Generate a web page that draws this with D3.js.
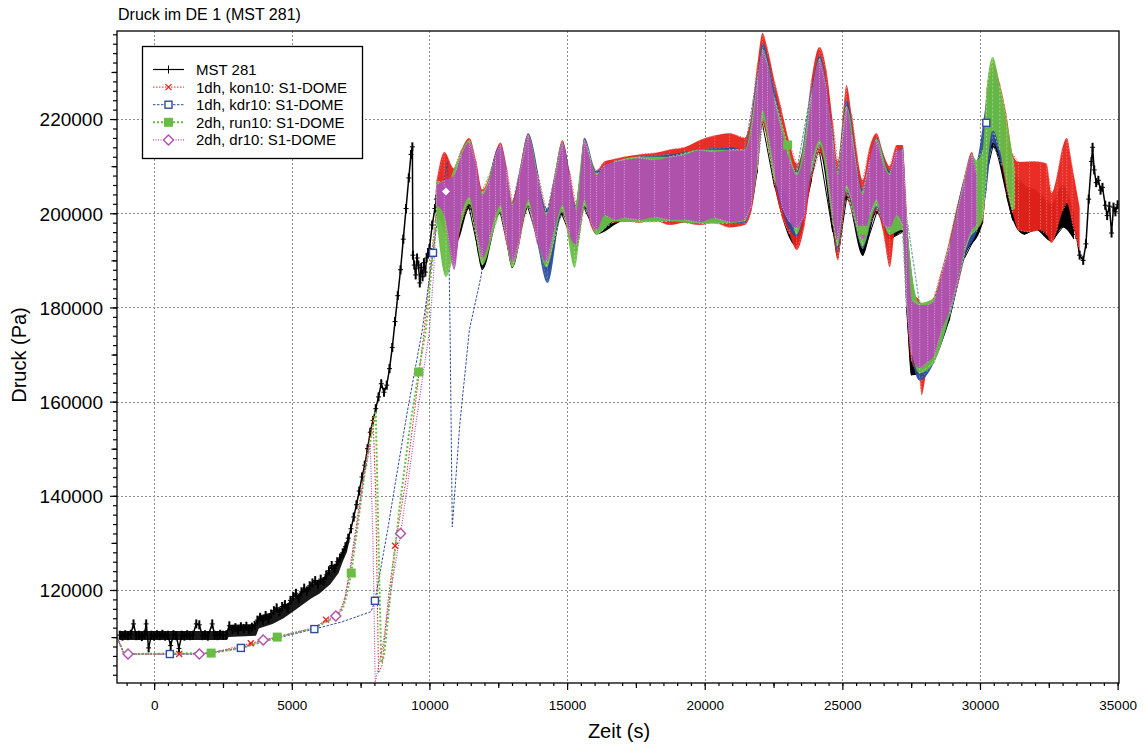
<!DOCTYPE html>
<html>
<head>
<meta charset="utf-8">
<script src="https://cdn.jsdelivr.net/npm/d3@7"></script>
<style>
  body { margin: 0; background: #fff; }
  svg text { font-family: "Liberation Sans", Arial, sans-serif; fill: #000; }
</style>
</head>
<body>
<svg id="chart" width="1146" height="747"></svg>
<script>
// ---- data -----------------------------------------------------------
const chartTitle = "Druck im DE 1 (MST 281)";
const xLabel = "Zeit (s)";
const yLabel = "Druck (Pa)";
const seriesNames = ["MST 281", "1dh, kon10: S1-DOME", "1dh, kdr10: S1-DOME", "2dh, run10: S1-DOME", "2dh, dr10: S1-DOME"];
const xTicks = [0, 5000, 10000, 15000, 20000, 25000, 30000, 35000];
const yTicks = [120000, 140000, 160000, 180000, 200000, 220000];

// MST 281 measurement [t, p] before the oscillating phase
const mstStart = [
  [-1250,110400],[-1150,110200],[-1050,110500],[-950,110300],[-850,110600],[-750,112800],[-650,110300],
  [-550,110400],[-450,110100],[-350,110500],[-290,112800],[-200,107700],[-100,110400],[0,110200],
  [100,110500],[200,110300],[300,110600],[400,110200],[500,110400],[600,108200],[700,110500],
  [800,110300],[900,107600],[1000,110400],[1100,110200],[1200,110500],[1300,110300],[1400,110400],
  [1530,112800],[1640,112600],[1750,110300],[1850,110500],[1950,110200],[2110,112800],[2200,110400],
  [2300,110300],[2400,110600],[2500,110400],[2620,110500],[2730,112400],[2850,111600],[2950,112000],
  [3050,111500],[3150,112200],[3250,111800],[3350,112300],[3450,111600],[3550,112100],[3650,112500],
  [3750,113600],[3850,114200],[3950,113500],[4050,114600],[4150,113800],[4250,114900],[4350,115600],
  [4450,116200],[4550,115400],[4650,116500],[4750,116900],[4850,116200],[4950,117800],[5050,118600],
  [5150,119300],[5250,118200],[5350,119600],[5450,120400],[5550,119800],[5650,120900],[5750,121500],
  [5850,122000],[5950,121200],[6050,122300],[6150,121800],[6250,123200],[6350,124100],[6450,125200],
  [6550,124600],[6650,126000],[6750,126800],[6850,127900],[6950,129200],[7050,131000],[7150,133000],
  [7250,135500],[7350,138100],[7450,141000],[7550,144000],[7650,146500],[7750,150000],[7850,153500],
  [7950,156000],[8050,158500],[8150,161000],[8250,163800],[8350,162000],[8450,163500],[8550,167000],
  [8650,171500],[8750,177000],[8850,182500],[8950,188000],[9050,194500],[9150,201000],[9250,207500],
  [9330,212500],[9380,214100],[9400,191100],[9450,189000],[9500,186900],[9550,190500],[9600,189000],
  [9650,185200],[9700,188500],[9750,186500],[9800,189500],[9850,187500],[9900,190500],[9950,191500],
  [10000,192500],[10100,197500],[10200,201000],[10250,203000]
];
// MST 281 signal noise range during the slow rise [t, low, high]
const mstNoise = [
  [-1250,109400,111300],[2650,109400,111300],[2700,110000,112600],[3700,110300,112800],[3800,111800,114600],
  [4300,112800,115300],[4700,114000,116600],[5000,115200,117800],[5300,116500,119500],[5700,118200,121000],
  [6000,119200,122000],[6400,121200,124000],[6700,123600,126400],[6850,126000,128600],[7000,128000,130500],
  [7100,130500,132500]
];
// MST 281 after the simulations end
const mstEnd = [
  [33400,197000],[33500,195500],[33620,191100],[33750,190000],[33850,193500],[33950,203000],[34050,211000],
  [34090,214000],[34150,209200],[34220,206500],[34300,207000],[34380,204900],[34450,205500],[34550,201700],
  [34620,199500],[34700,201500],[34780,195800],[34850,201300],[34920,200300],[35000,201800]
];
// MST 281 oscillation range [t, low, high]
const mstBand = [
  [10250,199500,205000],[10600,197000,206000],[11000,194000,210000],[11450,201000,214000],[11920,188000,203000],
  [12580,200000,213500],[13010,188400,201000],[13590,201000,216000],[14290,187900,199500],[14830,199500,214000],
  [15340,192000,201000],[15630,201000,215000],[16070,195500,208000],[17080,198400,211000],[18180,198600,211000],
  [19270,198500,212000],[20360,198400,212500],[21450,198300,212500],[21920,209000,227000],[22100,219000,233000],
  [22540,205500,222000],[23340,193000,207000],[23880,207000,224000],[24170,213000,231000],[24650,196000,214000],
  [24830,190500,207000],[25150,203000,221000],[25740,191000,203000],[26240,200000,214500],[26720,194500,207000],
  [27190,196000,212500],[27330,180000,198000],[27510,165600,180000],[28100,167000,179500],[28900,177500,192000],
  [29440,190500,206500],[30100,198000,212000],[30300,210000,226000],[30460,214000,228000],[30970,203500,218000],
  [31190,198500,209000],[31600,195500,206000],[32000,196500,205000],[32600,194000,202000],[33000,197000,206000],
  [33400,194500,200000]
];

// 1dh, kon10
const konLine = [
  [-1350,110000],[-1090,106400],[910,106400],[2070,106600],[3510,108700],[4470,110000],[5820,112000],
  [6240,113700],[6700,115200],[6900,117500],[6970,119400],[7150,126000],[7400,136000],[7650,146000],
  [7950,157000],[8050,140000],[8150,102400],[8280,104000],[8500,118000],[8750,129400],[9150,143400],
  [9500,160000],[9810,175200],[10050,190000],[10250,200000]
];
const konBand = [
  [10250,200000,206500],[10540,196000,213000],[10900,190000,209500],[11160,198000,213500],[11450,202500,216000],
  [11700,195500,211000],[11920,189500,205000],[12180,193500,208000],[12400,198500,213000],[12580,200500,215000],
  [12800,193500,210000],[13010,189000,202500],[13270,193500,209000],[13590,202000,217000],[13920,193500,209000],
  [14250,189000,200500],[14540,195500,208000],[14830,200500,215500],[15090,194500,209000],[15340,192500,201500],
  [15630,202000,216000],[15850,197500,212000],[16070,195500,209000],[16360,198500,211000],[16720,198000,211500],
  [17080,198500,212000],[17630,198000,212500],[18180,198500,212800],[18720,197500,213500],[19270,198000,214000],
  [19810,197500,215500],[20360,198000,216500],[20900,197000,217000],[21450,197500,216000],[21700,200500,221000],
  [21920,209500,232000],[22100,219000,238300],[22280,215500,235000],[22540,206000,228000],[22790,199500,222000],
  [23080,195500,215000],[23340,192200,210500],[23630,197500,216000],[23880,207500,228500],[24170,213000,235300],
  [24430,208000,230000],[24650,197500,219500],[24830,190000,211000],[25010,198000,220000],[25150,204000,227200],
  [25340,200500,221000],[25550,195500,212000],[25740,192500,207000],[25990,197500,214000],[26240,200500,217000],
  [26500,195500,212500],[26720,188600,210000],[26970,198500,214500],[27190,196500,214500],[27330,180500,201000],
  [27520,168500,183000],[27810,165000,181500],[27880,161400,180000],[28100,167500,181000],[28350,169000,182500],
  [28610,174000,188000],[28900,178500,194500],[29190,184500,202000],[29440,191000,208000],[29700,195500,213000],
  [29880,196500,210000],[30100,198500,214000],[30240,207000,226000],[30460,216500,232100],[30720,212500,227500],
  [30970,205000,220500],[31190,200000,212500],[31400,196400,210900],[31800,196000,211000],[32200,196400,210900],
  [32420,195500,210500],[32600,193700,204300],[32800,196500,208000],[33000,200500,214000],[33150,202200,216000],
  [33350,198000,210000],[33620,192200,201300]
];
const konMarks = [[910,106400],[3510,108700],[6240,113700],[8750,129400]];

// 1dh, kdr10
const kdrLine = [
  [-1350,110000],[-1090,106400],[570,106400],[1640,106400],[3150,107700],[4470,109800],[5820,111700],
  [6800,113200],[7200,114000],[7880,115400],[8020,117700],[8480,132700],[8780,143400],[9200,158000],
  [9740,175200],[10130,191600],[10400,203000],[10660,211000],[10750,175000],[10830,133400],[11100,155000],
  [11450,175200],[11870,186500],[12100,195000]
];
const kdrBand = [
  [12100,192500,205500],[12580,201000,214500],[13010,189000,202000],[13590,202000,216800],[14290,185200,201000],
  [14830,200500,215000],[15340,192500,201500],[15630,202000,216000],[16070,195500,209000],[16720,198300,211000],
  [17630,198200,212000],[18720,198300,212500],[19810,198000,213500],[20900,197800,214000],[21450,198000,213500],
  [21920,210500,229500],[22100,220500,236000],[22540,207000,226000],[23340,195000,209000],[23880,208500,226500],
  [24170,214500,233500],[24650,198500,217000],[24830,192000,209000],[25150,204500,224000],[25740,192500,205000],
  [26240,201000,216000],[26720,195500,209000],[27190,196500,214000],[27330,180000,199500],[27810,164500,180500],
  [28350,168500,181500],[28900,178000,193500],[29440,191000,207500],[29880,196000,211000],[30240,205000,224000],
  [30460,215000,230000],[30800,210000,224000]
];
const kdrMarks = [[570,106400],[3150,107700],[5820,111700],[8020,117700],[10130,191600],[30230,219200]];

// 2dh, run10
const runLine = [
  [-1350,110000],[-1090,106400],[2070,106600],[3150,107600],[4470,110000],[5820,111900],[6600,114300],
  [6850,116000],[7000,119000],[7160,123600],[7400,134000],[7650,145000],[7900,153000],[8050,158000],
  [8150,130000],[8250,104500],[8350,106000],[8600,120000],[8900,137000],[9300,155000],[9610,166300],
  [9870,175200],[10100,190000],[10250,200000]
];
const runBand = [
  [10250,199000,207000],[10600,186500,206000],[11000,194000,211000],[11450,202000,215500],[11920,189000,204500],
  [12400,197500,212000],[12580,200500,214500],[13010,188500,202000],[13590,201500,216500],[14250,188500,200000],
  [14830,200500,215000],[15270,188400,201000],[15630,201500,215500],[16070,195500,208500],[16720,198300,211000],
  [17630,198100,212000],[18720,198300,212000],[19810,197800,213500],[20900,197900,213500],[21450,198300,213500],
  [21920,210000,228500],[22100,220000,234800],[22540,207000,224500],[23010,203000,214500],[23340,195500,208500],
  [23880,209000,225500],[24170,214500,232800],[24650,198500,216000],[24830,193000,208500],[25150,205000,222800],
  [25740,193000,204500],[26240,201500,215800],[26720,195500,208500],[27190,196500,213500],[27330,180500,199500],
  [27810,166000,181000],[28350,168500,182000],[28900,178500,193500],[29440,191500,207500],[29700,195500,212500],
  [29880,196500,211300],[30100,199000,213400],[30240,208100,226200],[30460,217700,233200],[30720,213400,227200],
  [30970,206000,219800],[31190,200700,211900],[31260,201000,209000]
];
const runMarks = [[2070,106600],[4470,110000],[7160,123600],[9610,166300],[23010,214500],[25740,196400]];

// 2dh, dr10
const drLine = [
  [-1350,110000],[-1090,106400],[-950,106400],[570,106400],[1640,106400],[2070,106600],[3150,107700],
  [3960,109400],[4470,110000],[5820,111900],[6600,114500],[6800,115800],[6950,119000],[7150,125000],
  [7400,135000],[7650,145000],[7850,151000],[7950,130000],[8030,100400],[8300,108000],[8600,120000],
  [8950,132000],[9200,142000],[9500,155000],[9800,167000],[10000,175000],[10150,187000],[10250,200000]
];
const drBand = [
  [10250,201700,206000],[10540,199600,207000],[10900,188000,208100],[11160,199600,212400],[11450,203400,215100],
  [11700,196400,210200],[11920,190500,203900],[12180,194300,207000],[12400,199600,212400],[12580,201700,214500],
  [12800,194300,209200],[13010,189600,201700],[13270,194300,208100],[13590,202800,216400],[13920,194300,208100],
  [14250,189600,199600],[14540,196400,207000],[14830,201700,214900],[15090,195400,208100],[15340,193300,200700],
  [15630,202800,215500],[15850,198100,211300],[16070,196400,208100],[16360,199600,210200],[16720,198600,210900],
  [17080,199000,211300],[17630,198600,211700],[18180,199200,211300],[18720,198600,211900],[19270,198600,212400],
  [19810,198100,213400],[20360,199000,213000],[20900,198100,213400],[21450,198600,213400],[21700,201700,217700],
  [21920,211300,228300],[22100,221900,234600],[22280,217700,231500],[22540,208100,224000],[22790,201700,217700],
  [23080,198100,211300],[23340,196900,208100],[23630,199600,213400],[23880,210200,225100],[24170,215500,232500],
  [24430,210200,226200],[24650,199600,215500],[24830,194300,208100],[25010,200700,215500],[25150,206000,222500],
  [25340,202800,216600],[25550,197500,208100],[25740,194300,203900],[25990,199600,211300],[26240,202800,215500],
  [26500,197500,210200],[26720,196900,208100],[26970,199600,213400],[27190,197500,213400],[27330,181600,199600],
  [27520,169900,181600],[27810,167100,180500],[28100,168400,180500],[28350,169900,181600],[28610,175200,186900],
  [28900,179400,193200],[29190,185800,200700],[29440,192200,207000],[29700,196400,212400],[29880,197500,208100]
];
const drMarks = [[-950,106400],[1640,106400],[3960,109400],[6600,114500],[8950,132000],[10600,204600]];

// ---- layout ---------------------------------------------------------
const svg = d3.select("#chart");
const plot = { left: 117, right: 1119, top: 31, bottom: 683 };

const x = d3.scaleLinear().domain([-1350, 35050]).range([plot.left, plot.right]);
const y = d3.scaleLinear().domain([100250, 238700]).range([plot.bottom, plot.top]);

svg.append("defs").append("clipPath").attr("id", "plotClip")
  .append("rect").attr("x", plot.left).attr("y", plot.top)
  .attr("width", plot.right - plot.left).attr("height", plot.bottom - plot.top);

// grid
const grid = svg.append("g").attr("stroke", "#8c8c8c").attr("stroke-width", 1).attr("stroke-dasharray", "2,2");
grid.selectAll("line.gx").data(xTicks.filter(v => x(v) < plot.right - 2)).join("line")
  .attr("x1", d => Math.round(x(d)) + 0.5).attr("x2", d => Math.round(x(d)) + 0.5)
  .attr("y1", plot.top).attr("y2", plot.bottom);
grid.selectAll("line.gy").data(yTicks).join("line")
  .attr("y1", d => Math.round(y(d)) + 0.5).attr("y2", d => Math.round(y(d)) + 0.5)
  .attr("x1", plot.left).attr("x2", plot.right);

// styles of the simulation runs
const styles = {
  kon: { color: "#e8231c", tint: "#f26a62", dash: "1.5,1.5", width: 1 },
  kdr: { color: "#2b4c9d", tint: "#5b78c0", dash: "2.5,1.5", width: 1 },
  run: { color: "#68bd45", tint: "#9ad67e", dash: "2,2", width: 2 },
  dr:  { color: "#b24db2", tint: "#dc9edc", dash: "1,1.5", width: 1.2 }
};

const data = svg.append("g").attr("clip-path", "url(#plotClip)");
const line = d3.line().x(d => x(d[0])).y(d => y(d[1]));
const area = d3.area().x(d => x(d[0])).y0(d => y(d[1])).y1(d => y(d[2])).curve(d3.curveMonotoneX);
const areaLinear = d3.area().x(d => x(d[0])).y0(d => y(d[1])).y1(d => y(d[2]));
const zigzag = rows => rows.flatMap((d, i) => i % 2 ? [[d[0], d[2]], [d[0], d[1]]] : [[d[0], d[1]], [d[0], d[2]]]);

function drawBand(rows, st, opacity) {
  data.append("path").attr("d", area(rows)).attr("fill", st.color).attr("fill-opacity", opacity).attr("stroke", "none");
  data.append("path").attr("d", line(zigzag(rows))).attr("fill", "none")
    .attr("stroke", st.tint).attr("stroke-width", 1).attr("stroke-dasharray", st.dash);
}
function drawLine(rows, st) {
  data.append("path").attr("d", line(rows)).attr("fill", "none")
    .attr("stroke", st.color).attr("stroke-width", st.width).attr("stroke-dasharray", st.dash);
}

// marker shapes
function marker(g, kind, cx, cy, color) {
  if (kind === "plus") {
    g.append("line").attr("x1", cx).attr("x2", cx).attr("y1", cy - 4.5).attr("y2", cy + 4.5).attr("stroke", "#000").attr("stroke-width", 2);
    g.append("line").attr("x1", cx - 2.5).attr("x2", cx + 2.5).attr("y1", cy).attr("y2", cy).attr("stroke", "#000").attr("stroke-width", 1);
  } else if (kind === "cross") {
    g.append("path").attr("d", `M${cx-3},${cy-3}L${cx+3},${cy+3}M${cx-3},${cy+3}L${cx+3},${cy-3}`).attr("stroke", color).attr("stroke-width", 1.3);
  } else if (kind === "square") {
    g.append("rect").attr("x", cx - 3.5).attr("y", cy - 3.5).attr("width", 7).attr("height", 7).attr("fill", "#fff").attr("stroke", color).attr("stroke-width", 1.4);
  } else if (kind === "filled") {
    g.append("rect").attr("x", cx - 4.5).attr("y", cy - 4.5).attr("width", 9).attr("height", 9).attr("fill", color).attr("stroke", "none");
  } else if (kind === "diamond") {
    g.append("path").attr("d", `M${cx},${cy-5}L${cx+5},${cy}L${cx},${cy+5}L${cx-5},${cy}Z`).attr("fill", "#fff").attr("stroke", color).attr("stroke-width", 1.4);
  }
}

// MST 281 (measurement)
data.append("path").attr("d", area(mstBand)).attr("fill", "#000");
data.append("path").attr("d", line(zigzag(mstBand))).attr("fill", "none").attr("stroke", "#000").attr("stroke-width", 1);
data.append("path").attr("d", areaLinear(mstNoise)).attr("fill", "#000").attr("fill-opacity", 0.9);
data.append("path").attr("d", line(mstStart)).attr("fill", "none").attr("stroke", "#000").attr("stroke-width", 1.5);
data.append("path").attr("d", line(mstEnd)).attr("fill", "none").attr("stroke", "#000").attr("stroke-width", 1.5);
const mstMarks = data.append("g");
mstStart.concat(mstEnd).forEach(d => marker(mstMarks, "plus", x(d[0]), y(d[1])));

// simulations
drawLine(konLine, styles.kon); drawBand(konBand, styles.kon, 0.95);
drawLine(kdrLine, styles.kdr); drawBand(kdrBand, styles.kdr, 0.95);
drawLine(runLine, styles.run); drawBand(runBand, styles.run, 0.95);
drawLine(drLine, styles.dr);   drawBand(drBand, styles.dr, 0.95);

const mk = data.append("g");
konMarks.forEach(d => marker(mk, "cross", x(d[0]), y(d[1]), styles.kon.color));
kdrMarks.forEach(d => marker(mk, "square", x(d[0]), y(d[1]), styles.kdr.color));
runMarks.forEach(d => marker(mk, "filled", x(d[0]), y(d[1]), styles.run.color));
drMarks.forEach(d => marker(mk, "diamond", x(d[0]), y(d[1]), styles.dr.color));

// frame
svg.append("rect").attr("x", plot.left).attr("y", plot.top)
  .attr("width", plot.right - plot.left).attr("height", plot.bottom - plot.top)
  .attr("fill", "none").attr("stroke", "#000").attr("stroke-width", 1.3);

// x axis
const xMinor = d3.range(-1000, 35001, 500);
const xMid = d3.range(2500, 35000, 5000);
const xAxisG = svg.append("g").attr("transform", `translate(0,${plot.bottom})`);
xAxisG.append("g").call(d3.axisBottom(x).tickValues(xMinor).tickSize(3).tickFormat(""));
xAxisG.append("g").call(d3.axisBottom(x).tickValues(xMid).tickSize(5).tickFormat(""));
xAxisG.append("g").call(d3.axisBottom(x).tickValues(xTicks).tickSize(7).tickPadding(10).tickFormat(d3.format("d")))
  .selectAll("text").style("font-size", "13.5px");
xAxisG.selectAll(".domain").remove();
xAxisG.selectAll("line").attr("stroke", "#000").attr("stroke-width", 1.2);

// y axis
const yMinor = d3.range(102000, 238001, 2000);
const yMid = d3.range(110000, 238001, 20000);
const yAxisG = svg.append("g").attr("transform", `translate(${plot.left},0)`);
yAxisG.append("g").call(d3.axisLeft(y).tickValues(yMinor).tickSize(4).tickFormat(""));
yAxisG.append("g").call(d3.axisLeft(y).tickValues(yMid).tickSize(5.5).tickFormat(""));
yAxisG.append("g").call(d3.axisLeft(y).tickValues(yTicks).tickSize(7).tickPadding(7).tickFormat(d3.format("d")))
  .selectAll("text").style("font-size", "19px").attr("dy", "0.36em");
yAxisG.selectAll(".domain").remove();
yAxisG.selectAll("line").attr("stroke", "#000").attr("stroke-width", 1.2);

// titles
svg.append("text").attr("x", 118).attr("y", 20).style("font-size", "16px").text(chartTitle);
svg.append("text").attr("x", 619).attr("y", 738).attr("text-anchor", "middle").style("font-size", "20px").text(xLabel);
svg.append("text").attr("transform", "translate(26,355) rotate(-90)").attr("text-anchor", "middle").style("font-size", "20px").text(yLabel);

// legend
const leg = svg.append("g");
leg.append("rect").attr("x", 142.5).attr("y", 46.5).attr("width", 220).attr("height", 112)
  .attr("fill", "#fff").attr("stroke", "#000").attr("stroke-width", 1.3);
const legStyles = [
  { color: "#000", dash: null, width: 1.2, mark: "plus" },
  { ...styles.kon, mark: "cross" },
  { ...styles.kdr, mark: "square" },
  { ...styles.run, mark: "filled" },
  { ...styles.dr, mark: "diamond" }
];
seriesNames.forEach((name, i) => {
  const cy = 69.5 + i * 17.6;
  const st = legStyles[i];
  leg.append("line").attr("x1", 153).attr("x2", 184).attr("y1", cy).attr("y2", cy)
    .attr("stroke", st.color).attr("stroke-width", st.width).attr("stroke-dasharray", st.dash);
  if (st.mark === "plus") {
    leg.append("line").attr("x1", 168.5).attr("x2", 168.5).attr("y1", cy - 4).attr("y2", cy + 4).attr("stroke", "#000").attr("stroke-width", 1);
  } else {
    marker(leg, st.mark, 168.5, cy, st.color);
  }
  leg.append("text").attr("x", 196).attr("y", cy).attr("dy", "0.36em").style("font-size", "15px").text(name);
});
</script>
</body>
</html>
